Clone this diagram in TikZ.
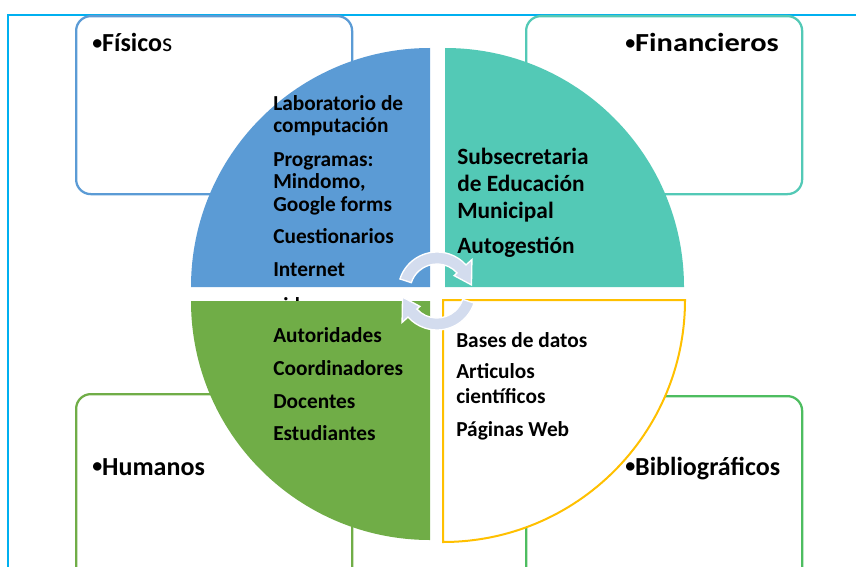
\documentclass[tikz,border=0pt]{standalone}
\usepackage{fontspec}
\setmainfont{Carlito}
\usepackage{xcolor}
\usetikzlibrary{calc, positioning}

\definecolor{fisblue}{HTML}{5B9BD5}
\definecolor{finteal}{HTML}{53C9B6}
\definecolor{humgreen}{HTML}{70AD47}
\definecolor{bibgreen}{HTML}{4DBD60}
\definecolor{bibyellow}{HTML}{FFC000}
\definecolor{framecyan}{HTML}{00B0F0}
\definecolor{arrowfill}{HTML}{D3DCEE}

\newcommand{\catdot}{\raisebox{1.6pt}{\fontsize{15}{15}\selectfont•}}

\begin{document}
\begin{tikzpicture}[
  x=0.75pt, y=0.75pt,
  catbox/.style={draw, fill=white, rounded corners=11pt, line width=1.7pt,
                 minimum width=207pt, anchor=north west, inner sep=0pt},
  catlabel/.style={font=\fontsize{19.5}{23}\selectfont\bfseries, anchor=base west, inner sep=0pt},
  quadtext/.style={font=\fontsize{16}{19}\selectfont\bfseries, anchor=base west, inner sep=0pt},
  bigtext/.style={quadtext, font=\fontsize{17.5}{21}\selectfont\bfseries},
  cycarrow/.style={fill=arrowfill, draw=white, line width=1pt}
]
  \useasboundingbox (0,0) rectangle (856,-567);
  \clip (0,0) rectangle (856,-567);

  % outer frame
  \draw[framecyan, line width=1.6pt] (8,-600) -- (8,-15) -- (900,-15);

  % category boxes
  \node[catbox, draw=fisblue, minimum height=133.5pt] (fisbox) at (75,-15) {};
  \node[catbox, draw=finteal, minimum height=133.5pt] (finbox) at (525,-15) {};
  \node[catbox, draw=humgreen, minimum height=145pt] (humbox) at (75,-393) {};
  \node[catbox, draw=bibgreen, minimum height=145pt] (bibbox) at (525,-395) {};

  % quadrants
  \fill[fisblue] (430,-287) -- (191,-287) arc[start angle=180, end angle=90, radius=239] -- cycle;
  \foreach \yy/\txt in {110/Laboratorio de, 132/computación, 166/Programas:, 188/{Mindomo,},
                        211/Google forms, 243/Cuestionarios, 276/Internet, 312/videos.com}
    \node[quadtext] (fis\yy) at (273,-\yy) {\txt};

  \fill[finteal] (445,-287) -- (445,-48) arc[start angle=90, end angle=0, radius=239] -- cycle;
  \foreach \yy/\txt in {164/Subsecretaria, 191/de Educación, 218/Municipal, 253/Autogestión}
    \node[bigtext] (fin\yy) at (457,-\yy) {\txt};

  \fill[humgreen] (430,-301) -- (430,-540) arc[start angle=270, end angle=180, radius=239] -- cycle;
  \foreach \yy/\txt in {342/Autoridades, 375/Coordinadores, 408/Docentes, 440/Estudiantes}
    \node[quadtext] (hum\yy) at (273,-\yy) {\txt};

  \draw[bibyellow, fill=white, line width=1.5pt] (443,-300) -- (685,-300)
    arc[start angle=0, end angle=-90, radius=242] -- cycle;
  \foreach \yy/\txt in {347/Bases de datos, 378/Articulos, 403/científicos, 436/Páginas Web}
    \node[quadtext] (bib\yy) at (456,-\yy) {\txt};

  % circular arrows
  \coordinate (hub) at (437,-291);
  \draw[cycarrow] ($(hub)+(162:39)$) arc[start angle=162, end angle=42, radius=39]
    -- ($(hub)+(42:47)$) -- ($(hub)+(10:35)$) -- ($(hub)+(42:23)$) -- ($(hub)+(42:27)$)
    arc[start angle=42, end angle=162, radius=27] -- cycle;
  \draw[cycarrow] ($(hub)+(342:39)$) arc[start angle=342, end angle=222, radius=39]
    -- ($(hub)+(222:47)$) -- ($(hub)+(190:35)$) -- ($(hub)+(222:23)$) -- ($(hub)+(222:27)$)
    arc[start angle=222, end angle=342, radius=27] -- cycle;

  % category labels
  \node[catlabel] (fislab) at (92,-52) {\catdot Físico{\mdseries s}};
  \node[catlabel] (finlab) at (625,-52) {\catdot\scalebox{1.17}[1]{Financieros}};
  \node[catlabel] (humlab) at (92,-475) {\catdot Humanos};
  \node[catlabel] (biblab) at (625,-475) {\catdot Bibliográficos};
\end{tikzpicture}
\end{document}
